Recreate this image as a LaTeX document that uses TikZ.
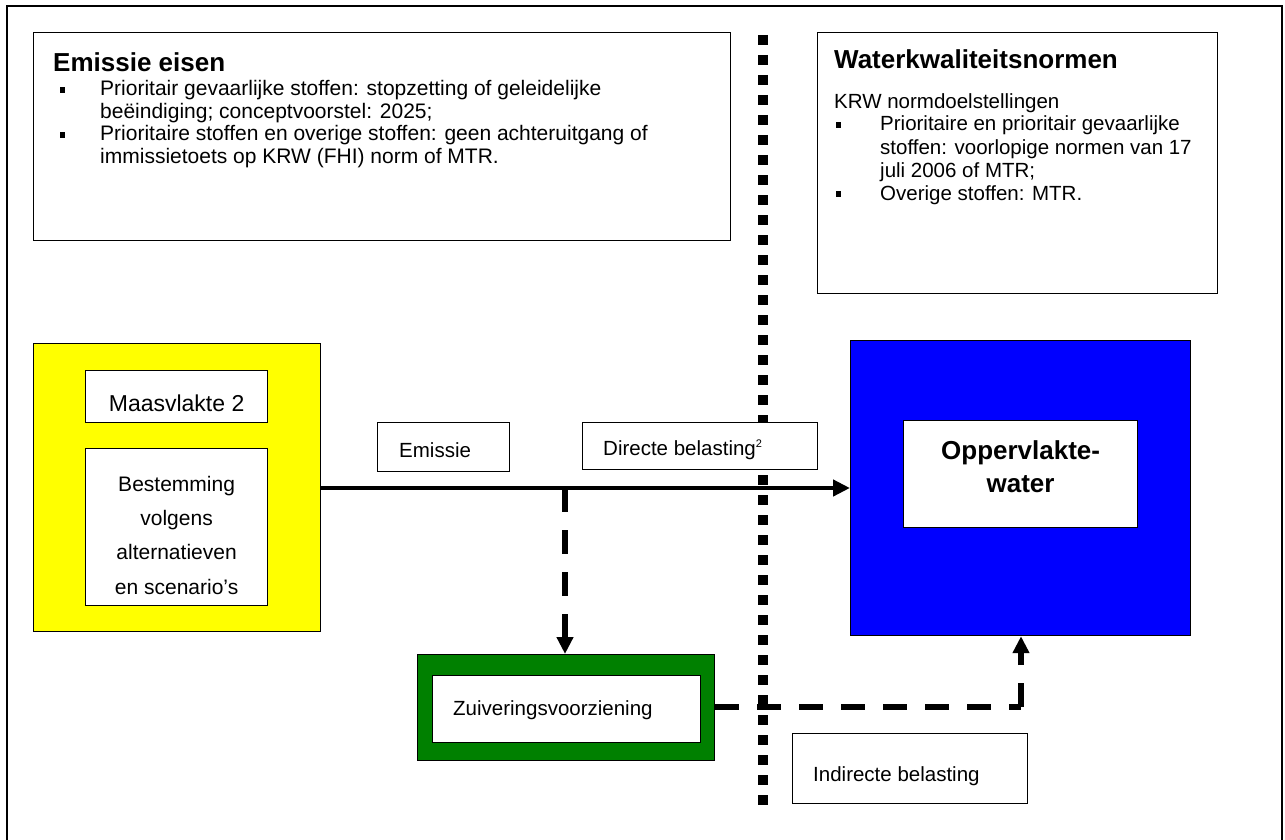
\documentclass[tikz,border=0pt]{standalone}
\usepackage{fontspec}
\setmainfont{Liberation Sans}
\usetikzlibrary{arrows.meta}
\definecolor{myyellow}{RGB}{255,255,0}
\definecolor{myblue}{RGB}{0,0,255}
\definecolor{mygreen}{RGB}{0,128,0}
\begin{document}
\begin{tikzpicture}[x=1pt,y=-1pt,
  box/.style={draw=black,line width=1.2pt,fill=white},
  ebody/.style={font=\fontsize{21}{23}\selectfont,anchor=base west,inner sep=0pt},
  wbody/.style={font=\fontsize{20.5}{23}\selectfont,anchor=base west,inner sep=0pt},
  ttl/.style={font=\bfseries\fontsize{26}{29}\selectfont,anchor=base west,inner sep=0pt},
  bul/.style={fill=black,minimum width=5pt,minimum height=6pt,inner sep=0pt,draw=none},
  lbltxt/.style={font=\fontsize{20.5}{23}\selectfont,anchor=base west,inner sep=0pt},
  thick arrow/.style={line width=4.5pt,-{Triangle[length=17pt,width=16pt]}},
  dash arrow/.style={line width=5.5pt,dash pattern=on 24pt off 18pt,-{Triangle[length=17pt,width=16pt]}}]
\useasboundingbox (0,0) rectangle (1285,840);
% outer frame
\draw[line width=1.5pt] (7,840) -- (7,6) -- (1282,6) -- (1282,840);
% dotted divider
\coordinate (dtop) at (763,35);
\coordinate (dbot) at (763,815);
\draw[line width=10pt,dash pattern=on 10pt off 10pt] (dtop) -- (dbot);
% Emissie eisen box
\node[box,minimum width=697pt,minimum height=208pt,anchor=north west] (emi) at (33,32) {};
\node[ttl] (emit) at (53,72) {Emissie eisen};
\node[bul] (b1) at (62,90) {};
\node[ebody] (e1) at (100,96) {Prioritair gevaarlijke stoffen: stopzetting of geleidelijke};
\node[ebody] (e2) at (100,119) {beëindiging; conceptvoorstel: 2025;};
\node[bul] (b2) at (62,135) {};
\node[ebody] (e3) at (100,141) {Prioritaire stoffen en overige stoffen: geen achteruitgang of};
\node[ebody] (e4) at (100,164) {immissietoets op KRW (FHI) norm of MTR.};
% Waterkwaliteitsnormen box
\node[box,minimum width=400pt,minimum height=261pt,anchor=north west] (wat) at (817,32) {};
\node[ttl] (watt) at (834,69) {Waterkwaliteitsnormen};
\node[wbody] (w0) at (834,109) {KRW normdoelstellingen};
\node[bul] (b3) at (838,125) {};
\node[wbody] (w1) at (880,131) {Prioritaire en prioritair gevaarlijke};
\node[wbody] (w2) at (880,154) {stoffen: voorlopige normen van 17};
\node[wbody] (w3) at (880,177) {juli 2006 of MTR;};
\node[bul] (b4) at (838,194) {};
\node[wbody] (w4) at (880,200) {Overige stoffen: MTR.};
% Yellow box
\node[box,fill=myyellow,minimum width=287pt,minimum height=288pt,anchor=north west] (yel) at (33,343) {};
\node[box,minimum width=182pt,minimum height=52pt,anchor=north west] (maas) at (85,370) {};
\node[inner sep=0pt,font=\fontsize{23}{26}\selectfont] (maast) at ([yshift=-7pt]maas.center) {Maasvlakte 2};
\node[box,minimum width=182pt,minimum height=157pt,anchor=north west] (best) at (85,448) {};
\node[inner sep=0pt,align=center,font=\fontsize{21}{34.3}\selectfont] (bestt) at ([yshift=-8pt]best.center) {Bestemming\\volgens\\alternatieven\\en scenario’s};
% Blue box
\node[box,fill=myblue,minimum width=340pt,minimum height=295pt,anchor=north west] (blue) at (850,340) {};
\node[box,minimum width=234pt,minimum height=107pt,anchor=north west] (opp) at (903,420) {};
\node[inner sep=0pt,align=center,font=\bfseries\fontsize{26}{33}\selectfont] (oppt) at ([yshift=7pt]opp.center) {Oppervlakte-\\water};
% Labels
\node[box,minimum width=132pt,minimum height=49pt,anchor=north west] (emil) at (377,422) {};
\node[lbltxt] (emilt) at (399,457) {Emissie};
\node[box,minimum width=235pt,minimum height=47pt,anchor=north west] (dir) at (582,422) {};
\node[lbltxt] (dirt) at (603,455) {Directe belasting\textsuperscript{\fontsize{11}{11}\selectfont 2}};
% Green box
\node[box,fill=mygreen,minimum width=297pt,minimum height=106pt,anchor=north west] (grn) at (417,654) {};
\node[box,minimum width=268pt,minimum height=67pt,anchor=north west] (zuiv) at (432,675) {};
\node[lbltxt] (zuivt) at (453,715) {Zuiveringsvoorziening};
\node[box,minimum width=235pt,minimum height=70pt,anchor=north west] (ind) at (792,733) {};
\node[lbltxt] (indt) at (813,781) {Indirecte belasting};
% connectors
\coordinate (split) at (565,488);
\coordinate (corner) at (1021,707);
\draw[thick arrow] (yel.east |- split) -- (blue.west |- split);
\draw[dash arrow] (split) -- (split |- grn.north);
\draw[line width=5.5pt,dash pattern=on 24pt off 18pt] (grn.east |- corner) -- (corner);
\draw[dash arrow] (corner) -- (corner |- blue.south);
\end{tikzpicture}
\end{document}
